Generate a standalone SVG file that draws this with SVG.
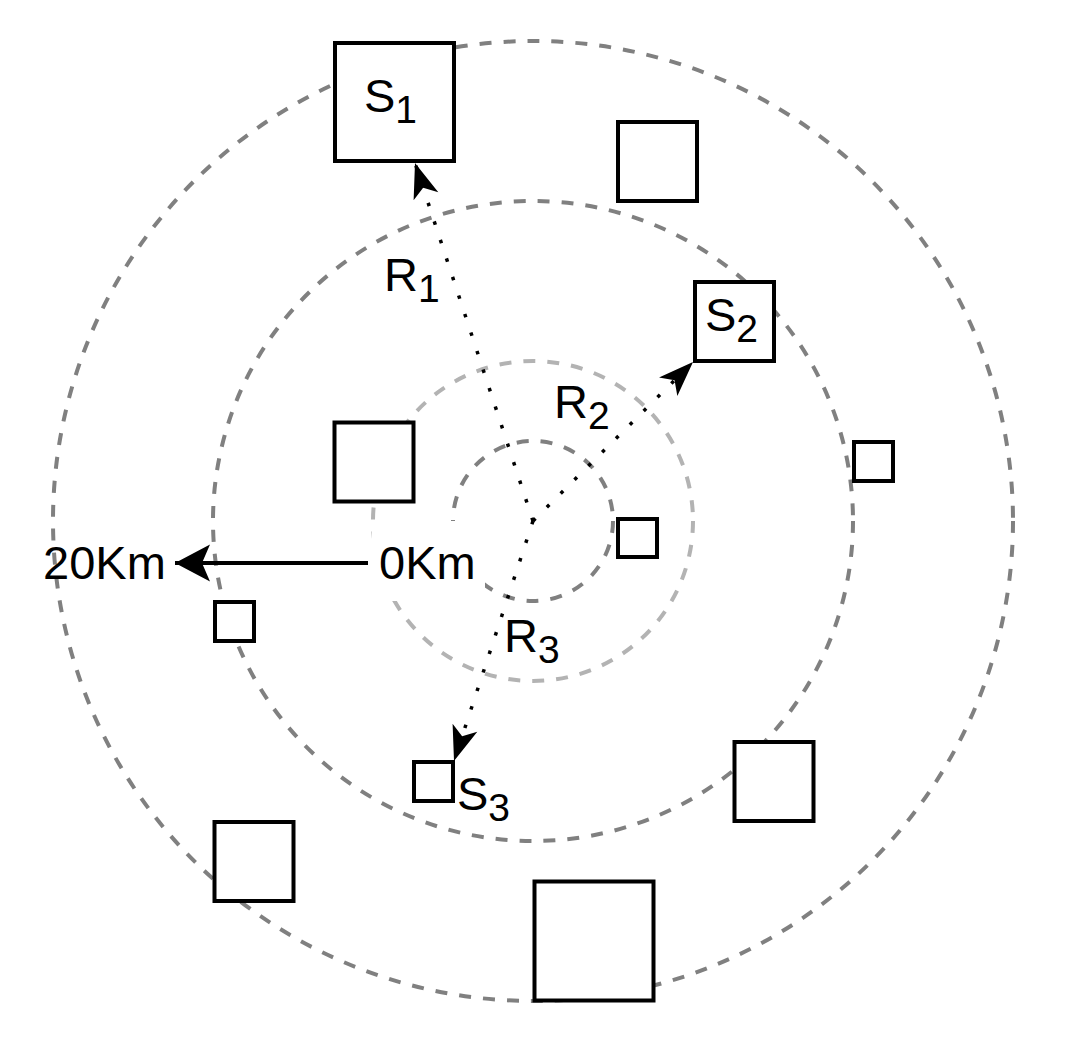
<svg xmlns="http://www.w3.org/2000/svg" width="1067" height="1044" viewBox="0 0 1067 1044">
<style>
.ring{fill:none;stroke-width:4;stroke-dasharray:12 12}
.dark{stroke:#808080}
.light{stroke:#b3b3b3}
.box{fill:#ffffff;stroke:#000000;stroke-width:4}
.lbl{font-family:"Liberation Sans",Arial,sans-serif;font-size:47px;fill:#000000}
.dot{fill:none;stroke:#000000;stroke-width:3.5;stroke-dasharray:3.5 16}
</style>
<defs>
<marker id="ahR" markerUnits="userSpaceOnUse" markerWidth="40" markerHeight="30" viewBox="-36 -15 40 30" refX="0" refY="0" orient="auto" overflow="visible">
<path d="M0,0 L-35,-13 L-26,0 L-35,13 Z" fill="#000000"/>
</marker>
<marker id="ahK" markerUnits="userSpaceOnUse" markerWidth="40" markerHeight="40" viewBox="-36 -20 40 40" refX="0" refY="0" orient="auto" overflow="visible">
<path d="M0,0 L-35,-18.5 L-27,0 L-35,18.5 Z" fill="#000000"/>
</marker>
</defs>
<rect width="1067" height="1044" fill="#ffffff"/>
<g id="rings">
<circle class="ring dark" cx="533" cy="521" r="480"/>
<circle class="ring dark" cx="533" cy="521" r="320"/>
<circle class="ring light" cx="533" cy="521" r="160"/>
<circle class="ring dark" cx="533" cy="521" r="80"/>
</g>
<g id="label-0km">
<rect x="372" y="521" width="113" height="80" fill="#ffffff"/>
<text class="lbl" x="379" y="579">0Km</text>
</g>
<g id="connectors">
<line x1="368" y1="563" x2="175" y2="563" stroke="#000000" stroke-width="4" marker-end="url(#ahK)"/>
<line class="dot" x1="533" y1="521" x2="415" y2="163" marker-end="url(#ahR)"/>
<line class="dot" x1="533" y1="521" x2="693" y2="362" marker-end="url(#ahR)"/>
<line class="dot" x1="533" y1="521" x2="454" y2="761" marker-end="url(#ahR)"/>
</g>
<g id="label-20km"><text class="lbl" x="43" y="579">20Km</text></g>
<g id="S1">
<rect class="box" x="335" y="43" width="119" height="118"/>
<text class="lbl" x="364" y="112">S<tspan font-size="39" dy="11">1</tspan></text>
</g>
<g id="box-a"><rect class="box" x="618" y="122" width="79" height="79"/></g>
<g id="S2">
<rect class="box" x="695" y="282" width="79" height="79"/>
<text class="lbl" x="705" y="331">S<tspan font-size="39" dy="11">2</tspan></text>
</g>
<g id="box-b"><rect class="box" x="334.5" y="422.5" width="79" height="79"/></g>
<g id="box-c"><rect class="box" x="618" y="519" width="39" height="38"/></g>
<g id="box-d"><rect class="box" x="854" y="442" width="39" height="39"/></g>
<g id="box-e"><rect class="box" x="215" y="602" width="39" height="39"/></g>
<g id="S3">
<rect class="box" x="414" y="762" width="39" height="39"/>
<text class="lbl" x="457" y="810">S<tspan font-size="39" dy="11">3</tspan></text>
</g>
<g id="box-f"><rect class="box" x="214.5" y="822" width="79" height="79"/></g>
<g id="box-g"><rect class="box" x="534.5" y="881.5" width="119" height="119"/></g>
<g id="box-h"><rect class="box" x="734.5" y="742" width="79" height="79"/></g>
<g id="R1"><text class="lbl" x="384" y="291">R<tspan font-size="39" dy="11">1</tspan></text></g>
<g id="R2"><text class="lbl" x="554" y="418">R<tspan font-size="39" dy="11">2</tspan></text></g>
<g id="R3"><text class="lbl" x="504" y="652">R<tspan font-size="39" dy="11">3</tspan></text></g>
</svg>
